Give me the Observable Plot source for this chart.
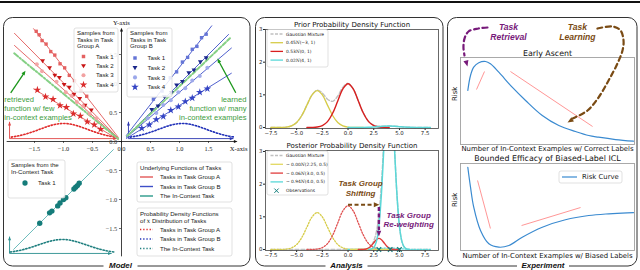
<!DOCTYPE html>
<html><head><meta charset="utf-8">
<script src="https://cdn.jsdelivr.net/npm/d3@7"></script>
<script src="https://cdn.jsdelivr.net/npm/@observablehq/plot@0.6"></script>
<style>
html,body{margin:0;padding:0;background:#fff;}
#wrap{position:relative;width:640px;height:270px;overflow:hidden;background:#fff;}
</style></head><body><div id="wrap"></div>
<script>
// ================= DATA =================
// --- Model panel: underlying linear functions ---
const lineAStartX = [-1.52, -1.85, -1.85, -1.52];
const lineAStartY = [1.95, 1.87, 1.66, 0.91];
const lineAEndX = [-0.05, -0.05, -0.05, -0.05];
const lineAEndY = [0.065, 0.05, 0.045, 0.03];
const lineBStartX = [0.08, 0.08, 0.08, 0.08];
const lineBStartY = [0.10, 0.08, 0.068, 0.05];
const lineBEndX = [1.56, 1.85, 1.90, 1.90];
const lineBEndY = [2.00, 1.85, 1.615, 1.18];
const greenAX = [-1.85, -0.05], greenAY = [1.52, 0.04];
const greenBX = [0.10, 1.87], greenBY = [0.095, 1.78];
const icLineX = [-1.86, -0.14], icLineY = [-1.86, -0.14];
// samples, group A
const aT1x = [-1.47,-1.42,-1.37,-1.30,-1.22,-1.15,-1.06,-0.98,-0.90,-0.81,-0.70,-0.60];
const aT1y = [1.90,1.84,1.74,1.68,1.55,1.49,1.34,1.27,1.14,1.05,0.88,0.78];
const aT2x = [-1.36,-1.24,-1.15,-1.07,-0.99,-0.90,-0.82,-0.72,-0.63,-0.52];
const aT2y = [1.39,1.27,1.14,1.10,0.98,0.93,0.81,0.74,0.62,0.54];
const aT3x = [-1.46,-1.37,-1.12,-0.96,-0.86,-0.77,-0.66,-0.55,-0.43];
const aT3y = [1.33,1.21,1.03,0.85,0.79,0.68,0.61,0.48,0.40];
const aT4x = [-1.45,-1.31,-1.18,-1.06,-0.95,-0.83,-0.71,-0.59,-0.47,-0.36];
const aT4y = [0.89,0.77,0.73,0.62,0.59,0.48,0.44,0.34,0.29,0.21];
// samples, group B
const bT1x = [0.55,0.70,0.84,0.95,1.05,1.14,1.22,1.30,1.38,1.46];
const bT1y = [0.73,0.87,1.10,1.20,1.37,1.45,1.59,1.64,1.79,1.85];
const bT2x = [0.52,0.63,0.74,0.86,0.95,1.05,1.16,1.25,1.36,1.46];
const bT2y = [0.55,0.61,0.77,0.84,0.97,1.03,1.18,1.23,1.37,1.44];
const bT3x = [0.45,0.60,0.72,0.85,0.98,1.10,1.22,1.35,1.48];
const bT3y = [0.40,0.49,0.63,0.71,0.85,0.92,1.05,1.13,1.27];
const bT4x = [0.35,0.48,0.60,0.72,0.85,0.98,1.10,1.22,1.35,1.48];
const bT4y = [0.23,0.29,0.38,0.43,0.54,0.60,0.69,0.75,0.85,0.91];
// in-context samples
const icx = [-1.41,-1.24,-1.20,-1.10,-1.06,-1.00,-0.96,-0.82,-0.79,-0.76,-0.73];
const icy = [-1.41,-1.23,-1.20,-1.11,-1.06,-1.00,-0.97,-0.82,-0.79,-0.76,-0.72];
// x-distribution densities (dotted humps)
const densAX = [-1.9,-1.8,-1.7,-1.6,-1.5,-1.4,-1.3,-1.2,-1.1,-1.0,-0.9,-0.8,-0.7,-0.6,-0.5,-0.4,-0.3,-0.2,-0.1];
const densAY = [0.076,0.092,0.115,0.144,0.178,0.215,0.251,0.282,0.303,0.310,0.303,0.282,0.251,0.215,0.178,0.144,0.115,0.092,0.076];
const densBX = [0.15,0.25,0.35,0.45,0.55,0.65,0.75,0.85,0.95,1.05,1.15,1.25,1.35,1.45,1.55,1.65,1.75,1.85,1.95];
const densBY = [0.076,0.092,0.115,0.144,0.178,0.215,0.251,0.282,0.303,0.310,0.303,0.282,0.251,0.215,0.178,0.144,0.115,0.092,0.076];
const densCX = [-1.92,-1.82,-1.72,-1.62,-1.52,-1.42,-1.32,-1.22,-1.12,-1.02,-0.92,-0.82,-0.72,-0.62,-0.52,-0.42,-0.32,-0.22,-0.12];
const densCY = [-1.906,-1.891,-1.870,-1.843,-1.812,-1.778,-1.744,-1.716,-1.696,-1.690,-1.696,-1.716,-1.744,-1.778,-1.812,-1.843,-1.870,-1.891,-1.906];
// density axes: [red, blue, teal]
const dAxX0 = [-1.93, 0.12, -1.93];
const dAxY0 = [0.05, 0.05, -1.93];
const dAxXEnd = [-0.08, 1.93, -0.17];
const dAxYTop = [0.34, 0.34, -1.64];
const leftXTicks = [-1.5, -1.0, -0.5, 0.0, 0.5, 1.0, 1.5];
const leftYTicks = [-1.5, -1.0, -0.5, 0.0, 0.5, 1.0, 1.5];
const retrievedText = ["retrieved", "function w/ few", "in-context examples"];
const learnedText = ["learned", "function w/ many", "in-context examples"];
const annoTextY = [0.724, 0.569, 0.414];

// --- Analysis panel: densities ---
const midXTicks = [-7.5, -5.0, -2.5, 0.0, 2.5, 5.0, 7.5];
const midYTicks = [0, 1, 2, 3];
const yelX = [-7.5,-7,-6.5,-6,-5.5,-5,-4.5,-4,-3.5,-3,-2.5,-2,-1.5,-1,-0.5,0,0.5,1,1.5];
const yelY = [0,0.0004,0.0025,0.0125,0.0496,0.1529,0.3669,0.6853,0.9972,1.13,0.9972,0.6853,0.3669,0.1529,0.0496,0.0125,0.0025,0.0004,0];
const redX = [-4,-3.5,-3,-2.5,-2,-1.5,-1,-0.5,0,0.5,1,1.5,2,2.5,3,3.5,4];
const redY = [0.0005,0.0029,0.0149,0.0588,0.1813,0.4351,0.8128,1.1826,1.34,1.1826,0.8128,0.4351,0.1813,0.0588,0.0149,0.0029,0.0005];
const cyaX = [0,0.5,1,1.5,2,2.5,3,3.5,4,4.5,5,5.5,6,6.5,7,7.5,8];
const cyaY = [0,0.0001,0.0005,0.002,0.0061,0.0146,0.0273,0.0397,0.045,0.0397,0.0273,0.0146,0.0061,0.002,0.0005,0.0001,0];
const mixX = [-7.5,-7,-6.5,-6,-5.5,-5,-4.5,-4,-3.5,-3,-2.5,-2,-1.5,-1,-0.5,0,0.5,1,1.5,2,2.5,3,3.5,4,4.5,5,5.5,6,6.5,7,7.5,8];
const mixY = [0,0.0004,0.0025,0.0125,0.0496,0.1529,0.3669,0.686,1.0,1.145,1.056,0.867,0.802,0.966,1.232,1.3525,1.185,0.814,0.437,0.187,0.073,0.042,0.043,0.0455,0.0397,0.0273,0.0146,0.0061,0.002,0.0005,0.0001,0];
const postYelX = [0.25, 4.25], postYelY = [0, 0];
const postRedX = [1,1.25,1.5,1.75,2,2.25,2.5,2.75,3,3.25,3.5,3.75,4,4.25,4.5,4.75,5];
const postRedY = [0.0001,0.0008,0.0038,0.0149,0.046,0.110,0.206,0.300,0.34,0.300,0.206,0.110,0.046,0.0149,0.0038,0.0008,0.0001];
const postCyaX = [2,2.25,2.5,2.75,3,3.25,3.5,3.75,4,4.25,4.5,4.75,5,5.25,5.5,5.75,6];
const postCyaY = [0.0018,0.0117,0.059,0.233,0.717,1.721,3.214,4.677,5.3,4.677,3.214,1.721,0.717,0.233,0.059,0.0117,0.0018];
const postMixX = [-7.5,-6,-4.5,-3,-1.5,0,1.5,1.75,2,2.25,2.5,2.75,3,3.25,3.5,3.75,4,4.25,4.5,4.75,5,5.25,5.5,5.75,6,6.25,7,8];
const postMixY = [0,0,0,0,0,0,0.0038,0.015,0.048,0.122,0.265,0.533,1.057,2.021,3.42,4.787,5.346,4.692,3.218,1.722,0.717,0.233,0.059,0.0117,0.0018,0.0002,0,0];
const obsX = [3.0, 4.1, 5.0];

// --- Experiment panel: risk curves ---
const ascentX = [4.2,5.75,7.6,10.5,14.4,17.2,22.0,29.7,37.4,47.0,56.5,66.1,73.7,79.3,89.1,99.4];
const ascentY = [0.621,0.793,0.889,0.939,0.954,0.928,0.831,0.659,0.506,0.333,0.218,0.149,0.103,0.084,0.057,0.038];
const biasedX = [4.2,5.75,7.6,11.5,16.3,22.0,27.8,35.5,47.0,60.3,73.7,85.2,95.8,99.4];
const biasedY = [0.957,0.728,0.498,0.230,0.077,0.038,0.057,0.153,0.268,0.353,0.402,0.422,0.433,0.435];
const trendTopX1 = [9.2, 28.7], trendTopY1 = [0.632, 0.839], trendTopX2 = [13.8, 75.9], trendTopY2 = [0.839, 0.207];
const trendBotX1 = [9.8, 35.1], trendBotY1 = [0.805, 0.287], trendBotX2 = [17.2, 69.0], trendBotY2 = [0.253, 0.494];
const retrievalPathX = [15.5, 10.3, 4.6, 2.3, 1.7, 2.3];
const retrievalPathY = [1.345, 1.333, 1.299, 1.218, 1.115, 1.023];
const learningPathX = [78.7, 87.4, 92.0, 93.7, 93.1, 90.2, 85.1, 79.3, 73.0, 64.5];
const learningPathY = [1.333, 1.356, 1.310, 1.195, 1.080, 0.931, 0.736, 0.540, 0.391, 0.300];

// ================= HELPERS =================
const wrap = document.getElementById("wrap");
const fmt1 = d3.format(".1f");
const SANS = "DejaVu Sans", LIB = "Liberation Sans", SERIF = "Liberation Serif";
function head(angleDeg) { // filled triangle, tip at origin
  const a = angleDeg * Math.PI / 180, c = Math.cos(a), s = Math.sin(a);
  return {draw(ctx, size) {
    const r = Math.sqrt(size / Math.PI);
    [[0,0],[-2*r,0.85*r],[-2*r,-0.85*r]].forEach(([x,y],i)=>{const X=x*c-y*s, Y=x*s+y*c; i?ctx.lineTo(X,Y):ctx.moveTo(X,Y);});
    ctx.closePath();
  }};
}
const triDown = {draw(ctx, size){ const r = Math.sqrt(size/Math.PI)*1.15; ctx.moveTo(-r,-0.7*r); ctx.lineTo(r,-0.7*r); ctx.lineTo(0,1.0*r); ctx.closePath(); }};
function place(el, left, top) {
  el.style.position = "absolute"; el.style.left = left + "px"; el.style.top = top + "px";
  el.style.overflow = "visible"; el.style.background = "transparent"; el.style.maxWidth = "none";
  wrap.appendChild(el);
}
const one = [0];

// ================= BACKGROUND (panels) =================
const bg = d3.select(wrap).append("svg").attr("width", 640).attr("height", 270)
  .style("position","absolute").style("left","0px").style("top","0px");
bg.append("line").attr("x1",0).attr("x2",640).attr("y1",2).attr("y2",2).attr("stroke","#111").attr("stroke-width",2);
[[3.5,17.5,246.5,248.5],[255.5,17.5,187.5,248.5],[447.5,17.5,189.5,248.5]].forEach(([x,y,w,h]) =>
  bg.append("rect").attr("x",x).attr("y",y).attr("width",w).attr("height",h).attr("rx",9)
    .attr("fill","none").attr("stroke","#333").attr("stroke-width",1));

// ================= MODEL PANEL =================
const RED = "#e25858", BLUE = "#3d4fc8", TEAL = "#5db6b6", GREEN = "#85d085";
const leftPlot = Plot.plot({
  width: 252, height: 270, margin: 0,
  x: {domain: [-121/58, 131/58], axis: null},
  y: {domain: [-129/58, 141/58], axis: null},
  style: {background: "transparent", overflow: "visible"},
  marks: [
    // density axes
    Plot.link([0], {x1: [dAxX0[0]], y1: [dAxY0[0]], x2: [dAxXEnd[0]], y2: [dAxY0[0]], stroke: "#e04444", strokeWidth: 0.9}),
    Plot.link([0], {x1: [dAxX0[0]], y1: [dAxY0[0]], x2: [dAxX0[0]], y2: [dAxYTop[0]], stroke: "#e04444", strokeWidth: 0.9}),
    Plot.link([0], {x1: [dAxX0[1]], y1: [dAxY0[1]], x2: [dAxXEnd[1]], y2: [dAxY0[1]], stroke: "#2a36b0", strokeWidth: 0.9}),
    Plot.link([0], {x1: [dAxX0[1]], y1: [dAxY0[1]], x2: [dAxX0[1]], y2: [dAxYTop[1]], stroke: "#2a36b0", strokeWidth: 0.9}),
    Plot.link([0], {x1: [dAxX0[2]], y1: [dAxY0[2]], x2: [dAxXEnd[2]], y2: [dAxY0[2]], stroke: "#2a8f8f", strokeWidth: 0.9}),
    Plot.link([0], {x1: [dAxX0[2]], y1: [dAxY0[2]], x2: [dAxX0[2]], y2: [dAxYTop[2]], stroke: "#2a8f8f", strokeWidth: 0.9}),
    Plot.dot([0], {x: [dAxXEnd[0]], y: [dAxY0[0]], symbol: head(0), r: 1.8, fill: "#e04444"}),
    Plot.dot([0], {x: [dAxX0[0]], y: [dAxYTop[0]], symbol: head(-90), r: 1.8, fill: "#e04444"}),
    Plot.dot([0], {x: [dAxXEnd[1]], y: [dAxY0[1]], symbol: head(0), r: 1.8, fill: "#2a36b0"}),
    Plot.dot([0], {x: [dAxX0[1]], y: [dAxYTop[1]], symbol: head(-90), r: 1.8, fill: "#2a36b0"}),
    Plot.dot([0], {x: [dAxXEnd[2]], y: [dAxY0[2]], symbol: head(0), r: 1.8, fill: "#2a8f8f"}),
    Plot.dot([0], {x: [dAxX0[2]], y: [dAxYTop[2]], symbol: head(-90), r: 1.8, fill: "#2a8f8f"}),
    // dotted densities
    Plot.line(densAX, {x: densAX, y: densAY, stroke: "#e02828", strokeWidth: 1.6, strokeDasharray: "1.3,1.9", curve: "catmull-rom"}),
    Plot.line(densBX, {x: densBX, y: densBY, stroke: "#1f2fb8", strokeWidth: 1.6, strokeDasharray: "1.3,1.9", curve: "catmull-rom"}),
    Plot.line(densCX, {x: densCX, y: densCY, stroke: "#1f7f7f", strokeWidth: 1.6, strokeDasharray: "1.3,1.9", curve: "catmull-rom"}),
    // main axes
    Plot.link([0], {x1: [-1.98], y1: [0], x2: [1.98], y2: [0], stroke: "#111", strokeWidth: 0.8}),
    Plot.link([0], {x1: [0], y1: [-1.98], x2: [0], y2: [1.93], stroke: "#111", strokeWidth: 0.8}),
    Plot.dot([0], {x: [2.0], y: [0], symbol: head(0), r: 1.8, fill: "#111"}),
    Plot.dot([0], {x: [0], y: [1.96], symbol: head(-90), r: 1.8, fill: "#111"}),
    Plot.ruleX(leftXTicks, {x: d => d, y1: () => 0, y2: () => -0.035, stroke: "#111", strokeWidth: 0.6}),
    Plot.ruleY(leftYTicks, {y: d => d, x1: () => 0, x2: () => -0.035, stroke: "#111", strokeWidth: 0.6}),
    Plot.text(leftXTicks, {x: d => d, y: () => -0.125, text: d => fmt1(d), fontSize: 6.3, fontFamily: SERIF, fill: "#222"}),
    Plot.text(leftYTicks, {x: () => -0.075, y: d => d, text: d => fmt1(d), textAnchor: "end", fontSize: 6.3, fontFamily: SERIF, fill: "#333"}),
    Plot.text(["Y-axis"], {x: () => 0, y: () => 2.05, fontSize: 6.6, fontFamily: SERIF, fill: "#111"}),
    Plot.text(["X-axis"], {x: () => 2.02, y: () => -0.12, fontSize: 6.6, fontFamily: SERIF, fill: "#111"}),
    // underlying functions
    Plot.link(lineAStartX, {x1: lineAStartX, y1: lineAStartY, x2: lineAEndX, y2: lineAEndY, stroke: RED, strokeWidth: 0.9}),
    Plot.link(lineBStartX, {x1: lineBStartX, y1: lineBStartY, x2: lineBEndX, y2: lineBEndY, stroke: BLUE, strokeWidth: 0.9}),
    Plot.line(greenAX, {x: greenAX, y: greenAY, stroke: GREEN, strokeWidth: 2, strokeDasharray: "5,2,1.5,2"}),
    Plot.line(greenBX, {x: greenBX, y: greenBY, stroke: GREEN, strokeWidth: 2, strokeDasharray: "4,2"}),
    Plot.line(icLineX, {x: icLineX, y: icLineY, stroke: TEAL, strokeWidth: 0.9}),
    // samples
    Plot.dot(aT1x, {x: aT1x, y: aT1y, symbol: "square", r: 1.9, fill: "#e46262"}),
    Plot.dot(aT2x, {x: aT2x, y: aT2y, symbol: triDown, r: 2.1, fill: "#c81414"}),
    Plot.dot(aT3x, {x: aT3x, y: aT3y, symbol: "circle", r: 2.0, fill: "#f2a2a2", fillOpacity: 0.95}),
    Plot.dot(aT4x, {x: aT4x, y: aT4y, symbol: "star", r: 2.4, fill: "#db2c2c"}),
    Plot.dot(bT1x, {x: bT1x, y: bT1y, symbol: "square", r: 1.9, fill: "#6575d6"}),
    Plot.dot(bT2x, {x: bT2x, y: bT2y, symbol: triDown, r: 2.1, fill: "#1a268a"}),
    Plot.dot(bT3x, {x: bT3x, y: bT3y, symbol: "circle", r: 2.0, fill: "#9ca8ea", fillOpacity: 0.95}),
    Plot.dot(bT4x, {x: bT4x, y: bT4y, symbol: "star", r: 2.4, fill: "#3444c4"}),
    Plot.dot(icx, {x: icx, y: icy, r: 2.7, fill: "#157c7a"}),
    // annotations
    Plot.link([0], {x1: [-1.91], y1: [0.84], x2: [-1.68], y2: [1.18], stroke: "#1a961a", strokeWidth: 1.3}),
    Plot.dot([0], {x: [-1.655], y: [1.22], symbol: head(-56), r: 2.2, fill: "#1a961a"}),
    Plot.link([0], {x1: [1.97], y1: [0.84], x2: [1.68], y2: [1.38], stroke: "#1a961a", strokeWidth: 1.3}),
    Plot.dot([0], {x: [1.655], y: [1.43], symbol: head(-118), r: 2.2, fill: "#1a961a"}),
    Plot.text(retrievedText, {x: () => -2.02, y: annoTextY, text: d => d, textAnchor: "start", fill: "#3c9c3c", fontSize: 7.6, fontFamily: LIB}),
    Plot.text(learnedText, {x: () => 2.155, y: annoTextY, text: d => d, textAnchor: "end", fill: "#3c9c3c", fontSize: 7.6, fontFamily: LIB})
  ]
});
place(leftPlot, 0, 0);

// ================= ANALYSIS PANEL =================
function midPlot(top, height, ydom, title, marks) {
  return Plot.plot({
    width: 193, height, marginLeft: 15, marginRight: 5, marginTop: 12, marginBottom: 13,
    x: {domain: [-8.03, 8.8], ticks: midXTicks, tickFormat: d => fmt1(d), tickSize: 2, tickPadding: 1, label: null},
    y: {domain: ydom, ticks: midYTicks, tickFormat: d => String(d), tickSize: 2, tickPadding: 1, label: null},
    style: {fontFamily: SANS, fontSize: "5.4px", background: "transparent", color: "#222", overflow: "visible"},
    marks: [
      ...marks,
      Plot.frame({stroke: "#444", strokeWidth: 0.8}),
      Plot.text([title], {frameAnchor: "top", lineAnchor: "middle", dy: -4.5, fontSize: 7, fill: "#111"})
    ]
  });
}
const priorPlot = midPlot(17, 124, [-0.03, 3.0], "Prior Probability Density Function", [
  Plot.line(mixX, {x: mixX, y: mixY, stroke: "#c0c0c0", strokeWidth: 1.4, strokeDasharray: "4,2", curve: "catmull-rom"}),
  Plot.line(yelX, {x: yelX, y: yelY, stroke: "#d6cc48", strokeWidth: 1.3, curve: "catmull-rom"}),
  Plot.line(redX, {x: redX, y: redY, stroke: "#d81e1e", strokeWidth: 1.4, curve: "catmull-rom"}),
  Plot.line(cyaX, {x: cyaX, y: cyaY, stroke: "#5ad8d8", strokeWidth: 1.5, curve: "catmull-rom"})
]);
place(priorPlot, 250, 17);

const postPlot = midPlot(138, 125, [-0.03, 3.03], "Posterior Probability Density Function", [
  Plot.line(postMixX, {x: postMixX, y: postMixY, stroke: "#c0c0c0", strokeWidth: 1.4, strokeDasharray: "4,2", curve: "monotone-x", clip: true}),
  Plot.line(yelX, {x: yelX, y: yelY, stroke: "#d6cc48", strokeWidth: 1.3, strokeDasharray: "1.4,1.6", curve: "catmull-rom"}),
  Plot.line(redX, {x: redX, y: redY, stroke: "#e05050", strokeWidth: 1.3, strokeDasharray: "1.4,1.6", curve: "catmull-rom"}),
  Plot.line(cyaX, {x: cyaX, y: cyaY, stroke: "#5ad8d8", strokeWidth: 1.3, strokeDasharray: "1.4,1.6", curve: "catmull-rom"}),
  Plot.line(postYelX, {x: postYelX, y: postYelY, stroke: "#e2d860", strokeWidth: 1.3}),
  Plot.line(postRedX, {x: postRedX, y: postRedY, stroke: "#e03c3c", strokeWidth: 1.4, curve: "catmull-rom"}),
  Plot.line(postCyaX, {x: postCyaX, y: postCyaY, stroke: "#5ad8d8", strokeWidth: 1.5, curve: "catmull-rom", clip: true}),
  Plot.dot(obsX, {x: obsX, y: () => 0, symbol: "times", r: 2.2, stroke: "#17807e", strokeWidth: 1.2}),
  // annotations
  Plot.link([0], {x1: [0.0], y1: [1.37], x2: [2.45], y2: [1.37], stroke: "#7a4b14", strokeWidth: 2, strokeDasharray: "4,2.5"}),
  Plot.dot([0], {x: [3.05], y: [1.37], symbol: head(0), r: 2.8, fill: "#7a4b14"}),
  Plot.link([0], {x1: [3.0], y1: [1.3], x2: [3.0], y2: [0.6], stroke: "#771a7a", strokeWidth: 2.4, strokeDasharray: "4,2.5"}),
  Plot.dot([0], {x: [3.0], y: [0.4], symbol: head(90), r: 2.8, fill: "#771a7a"}),
  Plot.text(["Task Group", "Shifting"], {x: () => 1.22, y: [2.02, 1.71], text: d => d, fontSize: 8, fontFamily: LIB, fontWeight: "bold", fontStyle: "italic", fill: "#7a4b14"}),
  Plot.text(["Task Group", "Re-weighting"], {x: () => 5.9, y: [1.04, 0.76], text: d => d, fontSize: 8, fontFamily: LIB, fontWeight: "bold", fontStyle: "italic", fill: "#771a7a"})
]);
place(postPlot, 250, 138);

// ================= EXPERIMENT PANEL =================
const CURVE = "#3a8ad0", TREND = "#ff8a8a";
const rTop = Plot.plot({
  width: 190, height: 135, marginLeft: 13, marginRight: 3, marginTop: 39, marginBottom: 9,
  x: {domain: [0, 100], axis: null}, y: {domain: [0, 1], axis: null},
  style: {fontFamily: SANS, background: "transparent", overflow: "visible"},
  marks: [
    Plot.frame({stroke: "#a0a0a0", strokeWidth: 0.9}),
    Plot.text(["Early Ascent"], {frameAnchor: "top", lineAnchor: "middle", dy: -4, fontSize: 7.9, fill: "#111"}),
    Plot.text(["Number of In-Context Examples w/ Correct Labels"], {frameAnchor: "bottom", lineAnchor: "middle", dy: 4.5, fontSize: 6.9, fill: "#111"}),
    Plot.text(["Risk"], {frameAnchor: "left", lineAnchor: "middle", dx: -6, rotate: -90, fontSize: 6.9, fill: "#111"}),
    Plot.link(trendTopX1, {x1: trendTopX1, y1: trendTopY1, x2: trendTopX2, y2: trendTopY2, stroke: TREND, strokeWidth: 0.9}),
    Plot.line(ascentX, {x: ascentX, y: ascentY, stroke: CURVE, strokeWidth: 1.2, curve: "catmull-rom"}),
    Plot.line(retrievalPathX, {x: retrievalPathX, y: retrievalPathY, stroke: "#771a7a", strokeWidth: 2.2, strokeDasharray: "5,3.5", curve: "catmull-rom"}),
    Plot.dot([0], {x: [4.0], y: [0.897], symbol: head(75), r: 3, fill: "#771a7a"}),
    Plot.line(learningPathX, {x: learningPathX, y: learningPathY, stroke: "#7a4b14", strokeWidth: 2.2, strokeDasharray: "5,3.5", curve: "catmull-rom"}),
    Plot.dot([0], {x: [61.5], y: [0.253], symbol: head(149), r: 3, fill: "#7a4b14"}),
    Plot.text(["Task", "Retrieval"], {x: () => 27.6, y: [1.345, 1.23], text: d => d, fontSize: 8.6, fontFamily: LIB, fontWeight: "bold", fontStyle: "italic", fill: "#771a7a"}),
    Plot.text(["Task", "Learning"], {x: () => 67.2, y: [1.345, 1.23], text: d => d, fontSize: 8.6, fontFamily: LIB, fontWeight: "bold", fontStyle: "italic", fill: "#7a4b14"})
  ]
});
place(rTop, 447, 18);

const rBot = Plot.plot({
  width: 190, height: 112, marginLeft: 13, marginRight: 3, marginTop: 10, marginBottom: 15,
  x: {domain: [0, 100], axis: null}, y: {domain: [0, 1], axis: null},
  style: {fontFamily: SANS, background: "transparent", overflow: "visible"},
  marks: [
    Plot.frame({stroke: "#a0a0a0", strokeWidth: 0.9}),
    Plot.text(["Bounded Efficacy of Biased-Label ICL"], {frameAnchor: "top", lineAnchor: "middle", dy: -5, fontSize: 7.9, fill: "#111"}),
    Plot.text(["Number of In-Context Examples w/ Biased Labels"], {frameAnchor: "bottom", lineAnchor: "middle", dy: 5, fontSize: 6.9, fill: "#111"}),
    Plot.text(["Risk"], {frameAnchor: "left", lineAnchor: "middle", dx: -6, rotate: -90, fontSize: 6.9, fill: "#111"}),
    Plot.link(trendBotX1, {x1: trendBotX1, y1: trendBotY1, x2: trendBotX2, y2: trendBotY2, stroke: TREND, strokeWidth: 0.9}),
    Plot.line(biasedX, {x: biasedX, y: biasedY, stroke: CURVE, strokeWidth: 1.2, curve: "catmull-rom"})
  ]
});
place(rBot, 447, 153);

// ================= OVERLAY (legends, panel labels) =================
const ov = d3.select(wrap).append("svg").attr("width", 640).attr("height", 270)
  .style("position","absolute").style("left","0px").style("top","0px").style("pointer-events","none");
function box(x, y, w, h) {
  ov.append("rect").attr("x", x).attr("y", y).attr("width", w).attr("height", h).attr("rx", 2)
    .attr("fill", "#fff").attr("fill-opacity", 0.85).attr("stroke", "#d4d4d4").attr("stroke-width", 0.7);
}
function txt(x, y, s, size, opts = {}) {
  const t = ov.append("text").attr("x", x).attr("y", y).attr("dy", "0.35em").attr("font-size", size)
    .attr("font-family", opts.family || LIB).attr("fill", opts.fill || "#222").attr("text-anchor", opts.anchor || "start");
  if (opts.weight) t.attr("font-weight", opts.weight);
  if (opts.style) t.attr("font-style", opts.style);
  if (Array.isArray(s)) s.forEach(seg => { const ts = t.append("tspan").text(seg.t); if (seg.i) ts.attr("font-style","italic").attr("font-family","DejaVu Serif"); });
  else t.text(s);
  return t;
}
function sym(x, y, type, size, fill, stroke) {
  ov.append("path").attr("transform", `translate(${x},${y})`).attr("d", d3.symbol(type, size)())
    .attr("fill", fill || "none").attr("stroke", stroke || "none").attr("stroke-width", stroke ? 1 : 0);
}
function seg(x1, x2, y, stroke, width, dash) {
  const l = ov.append("line").attr("x1", x1).attr("x2", x2).attr("y1", y).attr("y2", y).attr("stroke", stroke).attr("stroke-width", width);
  if (dash) l.attr("stroke-dasharray", dash);
}
// Group A legend
box(74, 28, 44, 64);
["Samples from", "Tasks in Task", "Group A"].forEach((s, i) => txt(77, 33 + i * 6.6, s, 6.1));
const legA = [[d3.symbolSquare, 12, "#e46262"], [triDown, 14, "#c81414"], [d3.symbolCircle, 13, "#f2a2a2"], [d3.symbolStar, 18, "#db2c2c"]];
legA.forEach(([t, s, c], i) => { sym(83.5, 56.5 + i * 9.4, t, s, c); txt(96, 56.5 + i * 9.4, `Task ${i + 1}`, 6.1); });
// Group B legend
box(127, 28, 45, 69);
["Samples from", "Tasks in Task", "Group B"].forEach((s, i) => txt(130, 33 + i * 6.6, s, 6.1));
const legB = [[d3.symbolSquare, 12, "#6575d6"], [triDown, 14, "#1a268a"], [d3.symbolCircle, 13, "#9ca8ea"], [d3.symbolStar, 18, "#3444c4"]];
legB.forEach(([t, s, c], i) => { sym(135, 58 + i * 9.7, t, s, c); txt(147.5, 58 + i * 9.7, `Task ${i + 1}`, 6.1); });
// In-context legend
box(8, 160, 57, 38);
txt(11, 164.5, "Samples from the", 6.1); txt(11, 171.5, "In-Context Task", 6.1);
sym(25, 183, d3.symbolCircle, 22, "#157c7a"); txt(38, 183, "Task 1", 6.1);
// Underlying functions legend
box(137, 162, 95, 40);
txt(140, 167.5, "Underlying Functions of Tasks", 6.1);
[["#e25858", "Tasks in Task Group A"], ["#3d4fc8", "Tasks in Task Group B"], ["#2a9a8a", "The In-Context Task"]].forEach(([c, s], i) => {
  seg(140, 153, 177 + i * 9.5, c, 1.4); txt(160, 177 + i * 9.5, s, 6.1);
});
// Density legend
box(137, 208, 95, 48);
txt(140, 213.5, "Probability Density Functions", 6.1);
txt(140, 220.5, [{t: "of "}, {t: "x", i: true}, {t: " Distribution of Tasks"}], 6.1);
[["#e02828", "Tasks in Task Group A"], ["#1f2fb8", "Tasks in Task Group B"], ["#1f7f7f", "The In-Context Task"]].forEach(([c, s], i) => {
  seg(140, 153, 229.5 + i * 9.5, c, 1.5, "1.3,1.9"); txt(160, 229.5 + i * 9.5, s, 6.1);
});
// Prior legend
box(267, 29.5, 61, 37.5);
const L = 4.4;
seg(270.5, 283, 34, "#c0c0c0", 1.3, "3,1.5"); txt(286, 34, "Gaussian Mixture", L, {family: SANS});
seg(270.5, 283, 42.7, "#d6cc48", 1.3); txt(286, 42.7, [{t: "0.45"}, {t: "N", i: true}, {t: "(−3, 1)"}], L, {family: SANS});
seg(270.5, 283, 51.4, "#d81e1e", 1.3); txt(286, 51.4, [{t: "0.53"}, {t: "N", i: true}, {t: "(0, 1)"}], L, {family: SANS});
seg(270.5, 283, 60.1, "#5ad8d8", 1.3); txt(286, 60.1, [{t: "0.02"}, {t: "N", i: true}, {t: "(4, 1)"}], L, {family: SANS});
// Posterior legend
box(267, 151, 61, 44);
seg(270.5, 283, 155.5, "#c0c0c0", 1.3, "3,1.5"); txt(286, 155.5, "Gaussian Mixture", L, {family: SANS});
seg(270.5, 283, 164.3, "#e2d860", 1.3); txt(286, 164.3, [{t: "∼ 0.00"}, {t: "N", i: true}, {t: "(2.25, 0.5)"}], L, {family: SANS});
seg(270.5, 283, 173.1, "#e03c3c", 1.3); txt(286, 173.1, [{t: "∼ 0.06"}, {t: "N", i: true}, {t: "(3.0, 0.5)"}], L, {family: SANS});
seg(270.5, 283, 181.9, "#5ad8d8", 1.3); txt(286, 181.9, [{t: "∼ 0.94"}, {t: "N", i: true}, {t: "(4.0, 0.5)"}], L, {family: SANS});
sym(276.5, 190.7, d3.symbolTimes, 14, "none", "#17807e"); txt(286, 190.7, "Observations", L, {family: SANS});
// Risk curve legend
box(559, 171, 63, 12);
seg(562, 577, 177, "#3a8ad0", 1.2); txt(582, 177, "Risk Curve", 6.9, {family: SANS});
// Panel labels
[["Model", 120.5, 30], ["Analysis", 346.5, 38], ["Experiment", 543, 48]].forEach(([s, x, w]) => {
  ov.append("rect").attr("x", x - w / 2 - 2).attr("y", 261).attr("width", w + 4).attr("height", 9).attr("fill", "#fff");
  txt(x, 265, s, 7.9, {anchor: "middle", weight: "bold", style: "italic", fill: "#111"});
});
</script></body></html>
